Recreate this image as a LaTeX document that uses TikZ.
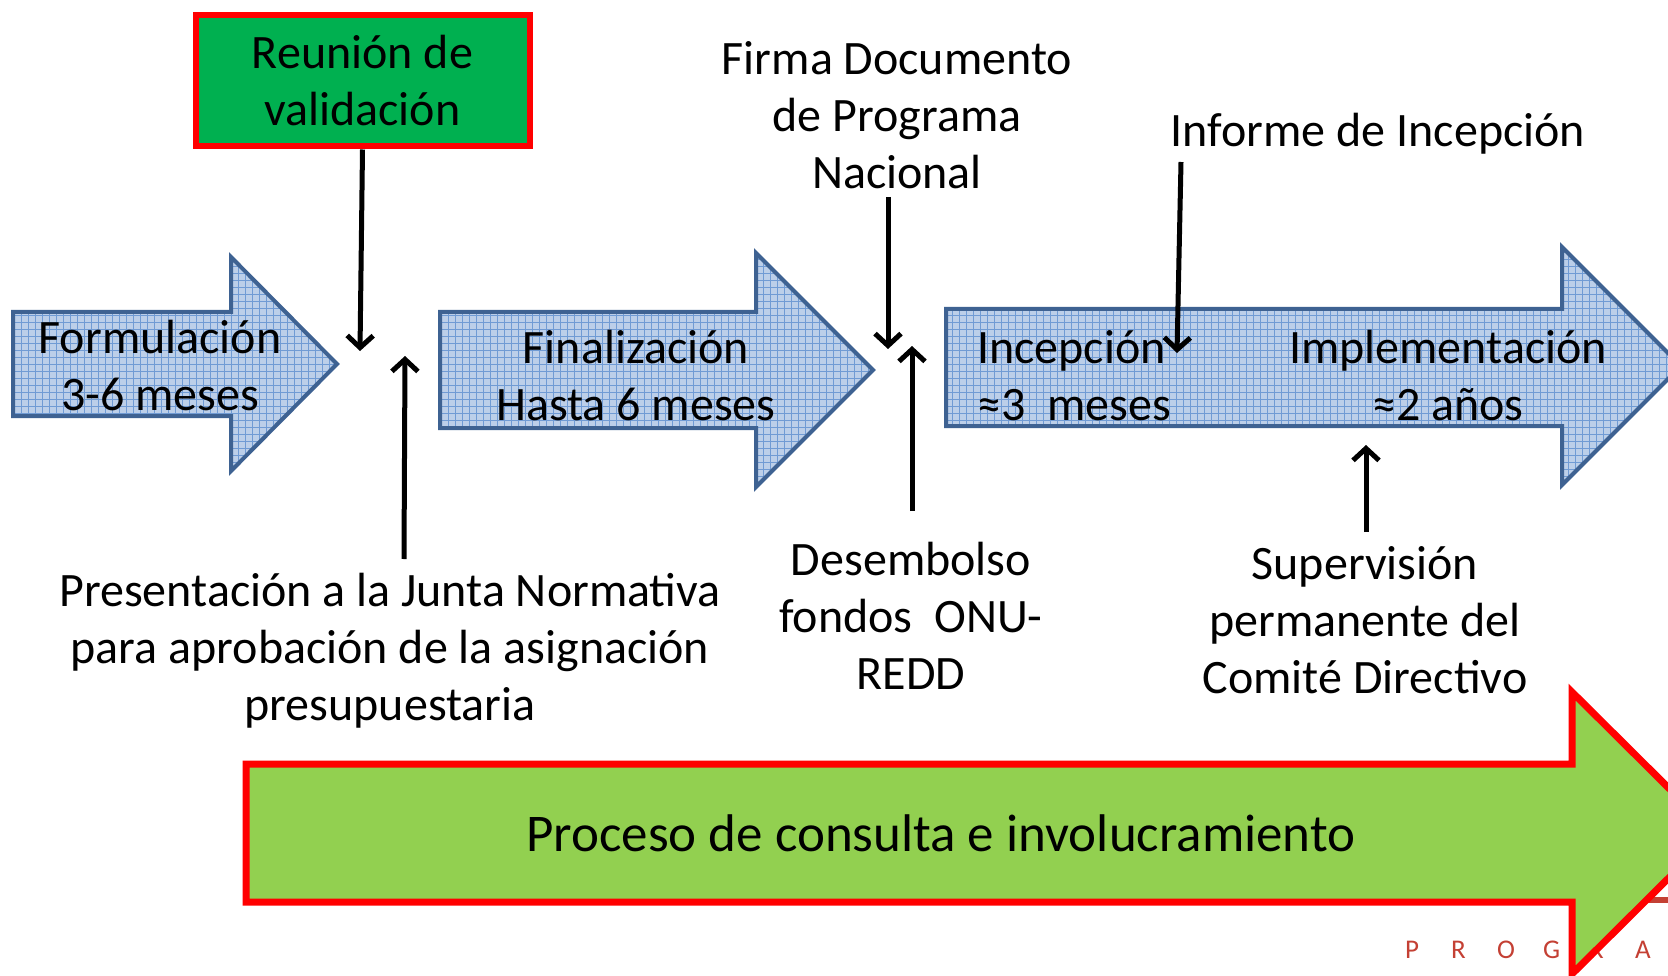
\documentclass[tikz,border=0pt]{standalone}
\usepackage{fontspec}
\setmainfont{Carlito}
\usetikzlibrary{arrows.meta}
\definecolor{bluefill}{RGB}{188,207,233}
\definecolor{gridc}{RGB}{112,155,212}
\definecolor{bluebd}{RGB}{62,98,146}
\definecolor{darkgreen}{RGB}{0,176,80}
\definecolor{lightgreen}{RGB}{146,208,80}
\definecolor{pred}{RGB}{255,0,0}
\definecolor{logored}{RGB}{196,64,52}
\begin{document}
\begin{tikzpicture}[x=1pt,y=-1pt,
  bluearrow/.style={draw=bluebd, line width=4pt, fill=bluefill, line join=miter,
    path picture={\draw[gridc, line width=0.8pt, step=7pt] (path picture bounding box.south west) grid (path picture bounding box.north east);}},
  greenarrow/.style={draw=pred, line width=7pt, fill=lightgreen, line join=miter},
  lbl/.style={font=\fontsize{48pt}{57pt}\selectfont, align=center, inner sep=0pt, text=black},
  conn/.style={line width=5pt, -{Straight Barb[length=12pt,width=26pt,line width=5pt]}},
]
\useasboundingbox (0,0) rectangle (1668,976);
\clip (0,0) rectangle (1668,976);
\fill[white] (0,0) rectangle (1668,976);

% logo fragment behind green arrow
\node[anchor=base west, inner sep=0pt, text=logored, font=\fontsize{27pt}{27pt}\selectfont] (logo) at (1405,958)
  {\makebox[46pt][l]{P}\makebox[46pt][l]{R}\makebox[46pt][l]{O}\makebox[46pt][l]{G}\makebox[46pt][l]{R}\makebox[46pt][l]{A}};
\fill[logored] (1645,897) rectangle (1668,903);

% blue arrows
\draw[bluearrow] (13,312) -- (231,312) -- (231,257) -- (337,364) -- (231,471) -- (231,416) -- (13,416) -- cycle;
\draw[bluearrow] (440,312) -- (756,312) -- (756,253) -- (873,370) -- (756,487) -- (756,428) -- (440,428) -- cycle;
\draw[bluearrow] (946,309) -- (1562,309) -- (1562,247) -- (1681,366) -- (1562,485) -- (1562,426) -- (946,426) -- cycle;

% green arrow
\draw[greenarrow] (246,764) -- (1572,764) -- (1572,692) -- (1714,833) -- (1572,974) -- (1572,902) -- (246,902) -- cycle;

% validation box
\node[lbl, draw=pred, line width=6pt, fill=darkgreen, minimum width=334pt, minimum height=131pt] (val) at (362.5,81) {Reuni\'on de\\validaci\'on};

% labels
\node[lbl] (firma) at (897,115) {Firma Documento\\de Programa\\Nacional};
\node[lbl] (informe) at (1378,134) {Informe de Incepci\'on};
\node[lbl] (form) at (160,366) {Formulaci\'on\\3-6 meses};
\node[lbl] (fin) at (636,376) {Finalizaci\'on\\Hasta 6 meses};
\node[lbl, align=left, anchor=west] (incep) at (977,376) {Incepci\'on\\≈3\ \ meses};
\node[lbl] (impl) at (1448,376) {Implementaci\'on\\≈2 a\~nos};
\node[lbl] (pres) at (390,651) {Presentaci\'on a la Junta Normativa\\para aprobaci\'on de la asignaci\'on\\presupuestaria};
\node[lbl] (desem) at (911,616) {Desembolso\\fondos\ \ ONU-\\REDD};
\node[lbl] (sup) at (1365,620) {Supervisi\'on\\permanente del\\Comit\'e Directivo};
\node[lbl, font=\fontsize{53pt}{60pt}\selectfont] (proc) at (941,833) {Proceso de consulta e involucramiento};

% connector end points
\coordinate (p1) at (360,351);
\coordinate (p2s) at (404,559);
\coordinate (p2) at (405,356);
\coordinate (f1) at (888,197);
\coordinate (f2) at (888,349);
\coordinate (d1) at (912,511);
\coordinate (d2) at (912,346);
\coordinate (i1) at (1181,162);
\coordinate (i2) at (1177,353);
\coordinate (s1) at (1366,532);
\coordinate (s2) at (1366,445);

\draw[conn] (val.south) -- (p1);
\draw[conn] (p2s) -- (p2);
\draw[conn] (f1) -- (f2);
\draw[conn] (d1) -- (d2);
\draw[conn] (i1) -- (i2);
\draw[conn] (s1) -- (s2);
\end{tikzpicture}
\end{document}
